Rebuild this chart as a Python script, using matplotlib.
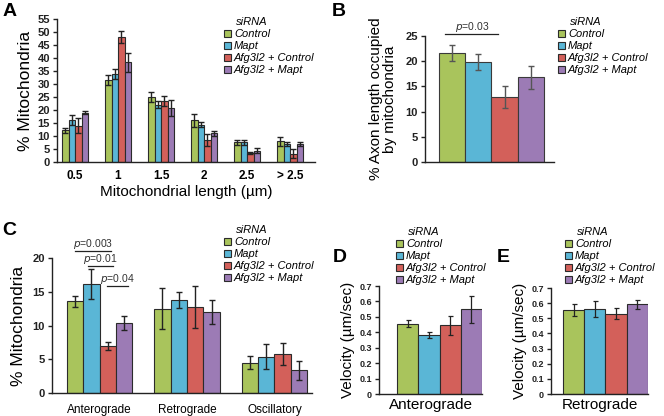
import matplotlib
matplotlib.use('Agg')
import matplotlib.pyplot as plt
import numpy as np
from matplotlib.patches import Patch

plt.rcParams['font.family'] = ['Liberation Sans', 'DejaVu Sans']

# groups / colors
GROUPS = ['Control', 'Mapt', 'Afg3l2 + Control', 'Afg3l2 + Mapt']
COLORS = ['#A9C45C', '#5AB6D6', '#D3605A', '#9C7BB5']
EDGE = '#2B2B2B'

# Panel A: length distribution
A_CATS = ['0.5', '1', '1.5', '2', '2.5', '> 2.5']
A_VALS = [
    [12.2, 31.6, 25.0, 16.0, 7.5, 8.0],
    [16.0, 33.8, 22.0, 14.4, 7.5, 6.8],
    [14.0, 48.0, 23.5, 8.4, 3.4, 3.2],
    [19.0, 38.3, 20.6, 11.0, 4.3, 6.9],
]
A_ERR = [
    [0.9, 1.8, 1.8, 2.4, 1.0, 1.8],
    [1.9, 1.8, 1.4, 1.1, 0.8, 0.8],
    [3.0, 2.2, 1.9, 2.2, 0.5, 1.7],
    [0.7, 3.8, 3.1, 0.9, 1.0, 0.6],
]

# Panel B: axon length occupied
B_VALS = [21.6, 19.8, 12.9, 16.8]
B_ERR = [1.6, 1.6, 2.1, 2.3]

# Panel C: motility
C_CATS = ['Anterograde', 'Retrograde', 'Oscillatory']
C_VALS = [
    [13.6, 12.5, 4.5],
    [16.2, 13.8, 5.4],
    [7.0, 12.7, 5.8],
    [10.4, 12.0, 3.4],
]
C_ERR = [
    [0.8, 3.0, 1.0],
    [2.2, 1.2, 1.9],
    [0.6, 3.1, 1.6],
    [1.0, 1.8, 1.4],
]

# Panel D/E: velocities
D_VALS = [0.455, 0.385, 0.445, 0.550]
D_ERR = [0.022, 0.020, 0.062, 0.088]
E_VALS = [0.555, 0.560, 0.530, 0.592]
E_ERR = [0.040, 0.052, 0.036, 0.028]

W, H = 664, 416
fig = plt.figure(figsize=(W / 100, H / 100), dpi=100, facecolor='white')


def px_axes(left, top, right, bottom):
    return fig.add_axes([left / W, 1 - bottom / H, (right - left) / W, (bottom - top) / H])


def style(ax, ysize=8):
    ax.spines['top'].set_visible(False)
    ax.spines['right'].set_visible(False)
    for s in ('left', 'bottom'):
        ax.spines[s].set_linewidth(1.0)
        ax.spines[s].set_color('#222222')
    ax.tick_params(axis='y', length=3, width=1, pad=2, labelsize=ysize, colors='#222222')
    ax.tick_params(axis='x', length=0)
    for t in ax.get_yticklabels():
        t.set_fontweight('bold')


def legend(ax, x, y):
    handles = [Patch(facecolor=c, edgecolor=EDGE, linewidth=0.8) for c in COLORS]
    leg = ax.legend(handles, GROUPS, title='siRNA', loc='upper left',
                    bbox_to_anchor=(x / W, 1 - y / H), bbox_transform=fig.transFigure,
                    frameon=False, prop={'style': 'italic', 'size': 8},
                    title_fontproperties={'style': 'italic', 'size': 8},
                    handlelength=0.6, handleheight=0.6, handletextpad=0.3,
                    labelspacing=0.18, borderpad=0, borderaxespad=0)
    leg._legend_box.align = 'left'
    leg.get_title().set_position((12, 0))
    return leg


def sig(ax, x0, x1, y, text, fs=7.5):
    ax.plot([x0, x1], [y, y], color='#222222', lw=0.9, clip_on=False)
    ax.text((x0 + x1) / 2, y, r'$\it{p}$' + text, ha='center', va='bottom',
            fontsize=fs, color='#333333', clip_on=False)


ekw = dict(ecolor='#222222', elinewidth=1.0, capsize=2.4, capthick=1.0)

# ---- Panel A ----
axA = px_axes(57, 19, 315, 162)
x = np.arange(len(A_CATS))
bw = 0.15
for i in range(4):
    axA.bar(x + (i - 1.5) * bw, A_VALS[i], bw, yerr=A_ERR[i], color=COLORS[i],
            edgecolor=EDGE, linewidth=0.8, error_kw=ekw, zorder=2)
axA.set_xlim(-0.42, 5.58)
axA.set_ylim(0, 55)
axA.set_yticks(np.arange(0, 56, 5))
axA.set_xticks(x)
axA.set_xticklabels(A_CATS, fontsize=8.5, fontweight='bold')
axA.set_ylabel('% Mitochondria', fontsize=12.5, labelpad=3)
axA.set_xlabel('Mitochondrial length (µm)', fontsize=11, labelpad=2)
style(axA)
axA.tick_params(axis='x', pad=6)
legend(axA, 224, 17)

# ---- Panel B ----
axB = px_axes(425, 36, 554, 162)
xb = np.arange(4)
axB.bar(xb, B_VALS, 1.0, yerr=B_ERR, color=COLORS, edgecolor='#3A3A3A', linewidth=0.8,
        error_kw=dict(ecolor='#555555', elinewidth=1.0, capsize=2.4, capthick=1.0), zorder=2)
axB.set_xlim(-1.03, 3.88)
axB.set_ylim(0, 25)
axB.set_yticks(np.arange(0, 26, 5))
axB.set_xticks([])
axB.set_ylabel('% Axon length occupied\nby mitochondria', fontsize=11, labelpad=6,
               linespacing=1.05)
style(axB)
sig(axB, -0.25, 1.75, 25.3, '=0.03')
legend(axB, 558, 17)

# ---- Panel C ----
axC = px_axes(52, 258, 312, 393)
xc = np.arange(len(C_CATS))
cw = 0.1875
for i in range(4):
    axC.bar(xc + (i - 1.5) * cw, C_VALS[i], cw, yerr=C_ERR[i], color=COLORS[i],
            edgecolor=EDGE, linewidth=0.8, error_kw=ekw, zorder=2)
axC.set_xlim(-0.545, 2.43)
axC.set_ylim(0, 20)
axC.set_yticks(np.arange(0, 21, 5))
axC.set_xticks(xc)
axC.set_xticklabels(C_CATS, fontsize=8.5)
axC.set_ylabel('% Mitochondria', fontsize=12.5, labelpad=5)
style(axC)
axC.tick_params(axis='x', pad=8)
sig(axC, -0.28, 0.13, 21.0, '=0.003')
sig(axC, -0.13, 0.15, 18.8, '=0.01')
sig(axC, 0.09, 0.32, 15.9, '=0.04')
legend(axC, 224, 225)

# ---- Panel D ----
axD = px_axes(379, 286, 482, 394)
axD.bar(xb, D_VALS, 1.0, yerr=D_ERR, color=COLORS, edgecolor=EDGE, linewidth=0.8,
        error_kw=dict(ecolor='#222222', elinewidth=0.9, capsize=1.8, capthick=0.9), zorder=2)
axD.set_xlim(-1.35, 3.5)
axD.set_ylim(0, 0.7)
axD.set_yticks(np.arange(0, 0.71, 0.1))
axD.set_yticklabels(['0', '0.1', '0.2', '0.3', '0.4', '0.5', '0.6', '0.7'])
axD.set_xticks([])
axD.set_xlabel('Anterograde', fontsize=11, labelpad=3)
axD.set_ylabel('Velocity (µm/sec)', fontsize=11, labelpad=3)
style(axD, 6.5)
legend(axD, 396, 227)

# ---- Panel E ----
axE = px_axes(551, 288, 648, 394)
axE.bar(xb, E_VALS, 1.0, yerr=E_ERR, color=COLORS, edgecolor=EDGE, linewidth=0.8,
        error_kw=dict(ecolor='#222222', elinewidth=0.9, capsize=1.8, capthick=0.9), zorder=2)
axE.set_xlim(-1.06, 3.5)
axE.set_ylim(0, 0.7)
axE.set_yticks(np.arange(0, 0.71, 0.1))
axE.set_yticklabels(['0', '0.1', '0.2', '0.3', '0.4', '0.5', '0.6', '0.7'])
axE.set_xticks([])
axE.set_xlabel('Retrograde', fontsize=11, labelpad=3)
axE.set_ylabel('Velocity (µm/sec)', fontsize=11, labelpad=3)
style(axE, 6.5)
legend(axE, 565, 227)

# panel letters
for lab, (px, py) in zip('ABCDE', [(3, 3), (332, 3), (2, 222), (333, 249), (497, 249)]):
    fig.text(px / W, 1 - py / H, lab, fontsize=14, fontweight='bold', va='top', ha='left')

fig.savefig('out.png', dpi=100, facecolor='white')
